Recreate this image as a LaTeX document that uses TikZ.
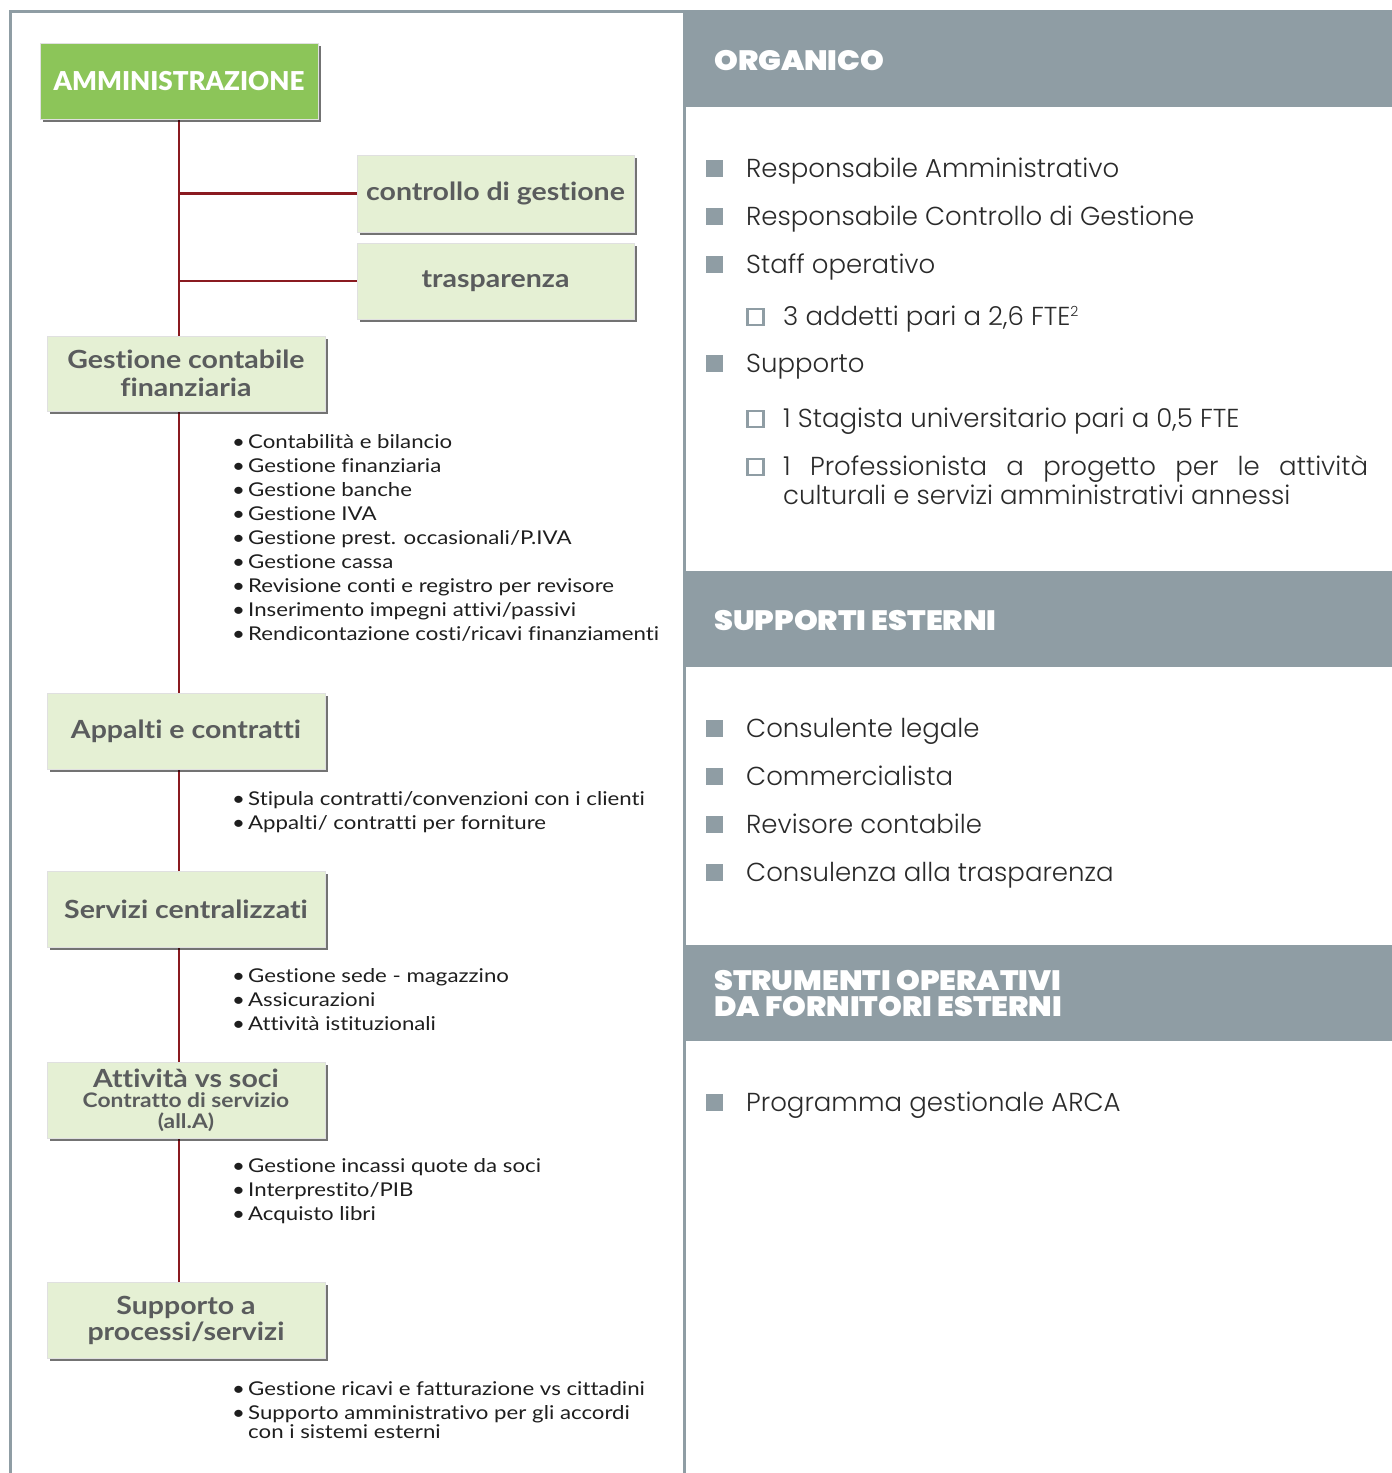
\documentclass[tikz,border=0pt]{standalone}
\usepackage{fontspec}
\usetikzlibrary{shadows,backgrounds}
\setmainfont{Lato}[Ligatures=NoCommon]
\newfontfamily\boxfont{Lato}[FakeStretch=1.14, Ligatures=NoCommon]
\newfontfamily\listfont{Lato}[FakeStretch=1.17, Ligatures=NoCommon]
\IfFontExistsTF{Lato Black}{\newfontfamily\ammbase{Lato Black}\newcommand\ammfont{\ammbase}}{%
  \IfFontExistsTF{Lato Heavy}{\newfontfamily\ammbase{Lato Heavy}\newcommand\ammfont{\ammbase}}{%
    \newfontfamily\ammbase{Lato}[Ligatures=NoCommon]\newcommand\ammfont{\ammbase\bfseries}}}
\IfFontExistsTF{Poppins Light}{\newfontfamily\rfont{Poppins Light}}{\newfontfamily\rfont{Poppins}}
\IfFontExistsTF{Poppins Black}{\newfontfamily\hfontbase{Poppins Black}[FakeStretch=1.08]\newcommand\hfont{\hfontbase}}{%
  \IfFontExistsTF{Poppins ExtraBold}{\newfontfamily\hfontbase{Poppins ExtraBold}[FakeStretch=1.1]\newcommand\hfont{\hfontbase}}{%
    \newfontfamily\hfontbase{Poppins}[FakeStretch=1.12]\newcommand\hfont{\hfontbase\bfseries}}}
\definecolor{hdr}{HTML}{8F9DA4}
\definecolor{lgreen}{HTML}{E5F0D4}
\definecolor{dgreen}{HTML}{8CC559}
\definecolor{tgrey}{HTML}{5A5C5D}
\definecolor{conn}{HTML}{8A1A20}
\definecolor{rtext}{HTML}{2A2A2A}
\definecolor{ltext}{HTML}{1E1E1E}
\tikzset{
  box/.style={draw=black!12, line width=0.6pt, fill=lgreen, minimum width=278pt, minimum height=76pt,
    inner sep=0pt, align=center, text=tgrey, font=\boxfont\fontsize{25}{28}\selectfont\bfseries,
    drop shadow={shadow xshift=2.5pt, shadow yshift=-2.5pt, fill=black, opacity=0.55}},
  connline/.style={draw=conn, line width=2.2pt},
  lst/.style={anchor=base west, inner sep=0pt, font=\listfont\fontsize{19}{24}\selectfont, text=ltext},
  ritem/.style={anchor=base west, inner sep=0pt, font=\rfont\fontsize{26}{29}\selectfont, text=rtext},
  sqr/.style={fill=hdr, minimum size=17pt, inner sep=0pt, anchor=south west},
  hsq/.style={draw=hdr, line width=2.5pt, minimum size=16pt, inner sep=0pt, anchor=south west},
  hdrbox/.style={fill=hdr, minimum width=706pt, minimum height=97pt, inner sep=0pt, anchor=north west},
  htext/.style={anchor=west, inner sep=0pt, text=white, align=left, font=\hfont\fontsize{28}{26}\selectfont},
}
\newcommand\bl{\makebox[16pt][l]{\textbullet}}
\begin{document}
\begin{tikzpicture}[x=1pt,y=-1pt]
\useasboundingbox (0,0) rectangle (1392,1473);
% left panel border
\draw[hdr, line width=3pt] (10.5,1473) -- (10.5,11.5) -- (684.5,11.5) -- (684.5,1473);

% boxes
\node[box, fill=dgreen, text=white, font=\ammfont\fontsize{26}{28}\selectfont] (amm) at (179,81) {AMMINISTRAZIONE};
\node[box, minimum width=277pt, minimum height=77pt] (ctrl) at (495.5,193.5) {controllo di gestione};
\node[box, minimum width=277pt] (trasp) at (495.5,281) {trasparenza};
\node[box, minimum height=75pt] (gcf) at (186,373.5) {Gestione contabile\\finanziaria};
\node[box] (app) at (186,731) {Appalti e contratti};
\node[box] (serv) at (186,909) {Servizi centralizzati};
\node[box, font=\boxfont\fontsize{20}{20.5}\selectfont\bfseries] (att) at (186,1100) {{\fontsize{25}{25}\selectfont Attività vs soci}\\Contratto di servizio\\(all.A)};
\node[box, font=\boxfont\fontsize{25}{26}\selectfont\bfseries] (supp) at (186,1320) {Supporto a\\processi/servizi};

% connectors
\begin{scope}[on background layer]
\draw[connline] (amm.south) -- (amm.south |- supp.north);
\draw[connline] (amm.south |- ctrl.west) -- (ctrl.west);
\draw[connline] (amm.south |- trasp.west) -- (trasp.west);
\end{scope}

% lists
\node[lst] (l1) at (232,448) {\begin{tabular}[t]{@{}l@{}}
\bl Contabilità e bilancio\\
\bl Gestione finanziaria\\
\bl Gestione banche\\
\bl Gestione IVA\\
\bl Gestione prest. occasionali/P.IVA\\
\bl Gestione cassa\\
\bl Revisione conti e registro per revisore\\
\bl Inserimento impegni attivi/passivi\\
\bl Rendicontazione costi/ricavi finanziamenti
\end{tabular}};
\node[lst] (l2) at (232,805) {\begin{tabular}[t]{@{}l@{}}
\bl Stipula contratti/convenzioni con i clienti\\
\bl Appalti/ contratti per forniture
\end{tabular}};
\node[lst] (l3) at (232,982) {\begin{tabular}[t]{@{}l@{}}
\bl Gestione sede - magazzino\\
\bl Assicurazioni\\
\bl Attività istituzionali
\end{tabular}};
\node[lst] (l4) at (232,1172) {\begin{tabular}[t]{@{}l@{}}
\bl Gestione incassi quote da soci\\
\bl Interprestito/PIB\\
\bl Acquisto libri
\end{tabular}};
\node[lst] (l5) at (232,1395) {\begin{tabular}[t]{@{}l@{}}
\bl Gestione ricavi e fatturazione vs cittadini\\
\bl Supporto amministrativo per gli accordi\\[-5pt]
\hspace*{16pt}con i sistemi esterni
\end{tabular}};

% right panel headers
\node[hdrbox] (h1) at (686,10) {};
\node[hdrbox, minimum height=96pt] (h2) at (686,571) {};
\node[hdrbox, minimum height=96pt] (h3) at (686,945) {};
\node[htext] (t1) at (714,61) {ORGANICO};
\node[htext] (t2) at (714,621) {SUPPORTI ESTERNI};
\node[htext] (t3) at (714,993.5) {STRUMENTI OPERATIVI\\DA FORNITORI ESTERNI};

% organico
\node[sqr] (s1) at (705.5,177.5) {};
\node[ritem] (r1) at (746,177) {Responsabile Amministrativo};
\node[sqr] (s2) at (705.5,225.5) {};
\node[ritem] (r2) at (746,225) {Responsabile Controllo di Gestione};
\node[sqr] (s3) at (705.5,273.5) {};
\node[ritem] (r3) at (746,273) {Staff operativo};
\node[hsq] (q1) at (746,326) {};
\node[ritem] (r4) at (783,325) {3 addetti pari a 2,6 FTE\raisebox{9pt}{\fontsize{14}{14}\selectfont 2}};
\node[sqr] (s4) at (705.5,372.5) {};
\node[ritem] (r5) at (746,372) {Supporto};
\node[hsq] (q2) at (746,428) {};
\node[ritem] (r6) at (783,427) {1 Stagista universitario pari a 0,5 FTE};
\node[hsq] (q3) at (746,476) {};
\node[ritem, text width=585pt, align=justify] (r7) at (783,475) {1 Professionista a progetto per le attività\linebreak culturali e servizi amministrativi annessi};

% supporti esterni
\node[sqr] (s5) at (705.5,737.5) {};
\node[ritem] (r8) at (746,737) {Consulente legale};
\node[sqr] (s6) at (705.5,785.5) {};
\node[ritem] (r9) at (746,785) {Commercialista};
\node[sqr] (s7) at (705.5,833.5) {};
\node[ritem] (r10) at (746,833) {Revisore contabile};
\node[sqr] (s8) at (705.5,881.5) {};
\node[ritem] (r11) at (746,881) {Consulenza alla trasparenza};

% strumenti
\node[sqr] (s9) at (705.5,1111.5) {};
\node[ritem] (r12) at (746,1111) {Programma gestionale ARCA};
\end{tikzpicture}
\end{document}
